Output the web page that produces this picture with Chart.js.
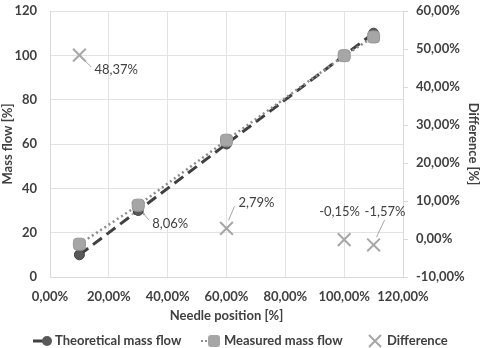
<!DOCTYPE html>
<html>
<head>
<meta charset="utf-8">
<script src="https://cdn.jsdelivr.net/npm/chart.js@4/dist/chart.umd.min.js"></script>
<style>
  html, body { margin: 0; padding: 0; background: #fff; }
  #wrap { width: 481px; height: 348px; }
</style>
</head>
<body>
<div id="wrap"><canvas id="chart" width="481" height="348"></canvas></div>
<script>
const needlePos = [10, 30, 60, 100, 110];
const theoreticalFlow = [10, 30, 60, 100, 110];
const measuredFlow = [14.8, 32.4, 61.7, 99.85, 108.3];
const difference = [48.37, 8.06, 2.79, -0.15, -1.57];
const seriesNames = ["Theoretical mass flow", "Measured mass flow", "Difference"];

const FONT = "Lato, 'Open Sans', sans-serif";
const TEXT = "#404040";
const GRID = "#e3e3e3";

const pct = (v) => v.toFixed(2).replace(".", ",") + "%";
const toPoints = (ys) => needlePos.map((x, i) => ({ x: x, y: ys[i] }));

// where each difference label sits relative to its point, and its leader line
const labelPlace = [
  { dx: 15, dy: 15, lead: [5, 5, 12, 12] },
  { dx: 14, dy: 15, lead: [5, 5, 11, 12] },
  { dx: 12, dy: -26, lead: [2, -8, 8, -22] },
  { dx: -25, dy: -28, lead: null },
  { dx: -9, dy: -33, lead: [3, -8, 11, -25] }
];

const diffLabels = {
  id: "diffLabels",
  afterDatasetsDraw(chart) {
    const ctx = chart.ctx;
    const meta = chart.getDatasetMeta(2);
    ctx.save();
    ctx.font = "13px " + FONT;
    ctx.fillStyle = TEXT;
    ctx.textAlign = "left";
    ctx.textBaseline = "middle";
    meta.data.forEach((pt, i) => {
      const p = labelPlace[i];
      if (p.lead) {
        ctx.strokeStyle = "#a6a6a6";
        ctx.lineWidth = 1;
        ctx.beginPath();
        ctx.moveTo(pt.x + p.lead[0], pt.y + p.lead[1]);
        ctx.lineTo(pt.x + p.lead[2], pt.y + p.lead[3]);
        ctx.stroke();
      }
      ctx.fillText(pct(difference[i]), pt.x + p.dx, pt.y + p.dy);
    });
    ctx.restore();
  }
};

const bottomLegend = {
  id: "bottomLegend",
  afterDraw(chart) {
    const ctx = chart.ctx;
    const y = 341;
    const starts = [33, 200, 369];
    ctx.save();
    ctx.font = "bold 13px " + FONT;
    ctx.fillStyle = TEXT;
    ctx.textBaseline = "middle";
    // theoretical
    let x = starts[0];
    ctx.strokeStyle = "#404040";
    ctx.lineWidth = 3;
    ctx.beginPath(); ctx.moveTo(x, y); ctx.lineTo(x + 12, y); ctx.stroke();
    ctx.fillStyle = "#595959";
    ctx.beginPath(); ctx.arc(x + 14, y, 5, 0, Math.PI * 2); ctx.fill();
    ctx.fillStyle = TEXT;
    ctx.fillText(seriesNames[0], x + 22, y);
    // measured
    x = starts[1];
    ctx.fillStyle = "#8c8c8c";
    ctx.fillRect(x + 1, y - 1, 2, 2);
    ctx.fillRect(x + 5, y - 1, 2, 2);
    ctx.fillStyle = "#a6a6a6";
    ctx.beginPath(); ctx.roundRect(x + 8, y - 6, 12, 12, 3); ctx.fill();
    ctx.fillStyle = TEXT;
    ctx.fillText(seriesNames[1], x + 24, y);
    // difference
    x = starts[2];
    ctx.strokeStyle = "#a6a6a6";
    ctx.lineWidth = 2;
    ctx.beginPath();
    ctx.moveTo(x, y - 6); ctx.lineTo(x + 12, y + 6);
    ctx.moveTo(x + 12, y - 6); ctx.lineTo(x, y + 6);
    ctx.stroke();
    ctx.fillStyle = TEXT;
    ctx.fillText(seriesNames[2], x + 18, y);
    ctx.restore();
  }
};

new Chart(document.getElementById("chart"), {
  type: "line",
  data: {
    datasets: [{
      label: seriesNames[0],
      data: toPoints(theoreticalFlow),
      yAxisID: "y",
      borderColor: "#404040",
      borderWidth: 3,
      borderDash: [11, 6],
      pointStyle: "circle",
      pointRadius: 5,
      pointBackgroundColor: "#595959",
      pointBorderColor: "#404040",
      pointBorderWidth: 1,
      order: 1
    }, {
      label: seriesNames[1],
      data: toPoints(measuredFlow),
      yAxisID: "y",
      borderColor: "#8c8c8c",
      borderWidth: 2.5,
      borderDash: [2, 3],
      pointStyle: "rectRounded",
      pointRadius: 7,
      pointBackgroundColor: "#a6a6a6",
      pointBorderColor: "#969696",
      pointBorderWidth: 1,
      order: 0
    }, {
      label: seriesNames[2],
      data: toPoints(difference),
      yAxisID: "y1",
      showLine: false,
      pointStyle: "crossRot",
      pointRadius: 9,
      pointBorderColor: "#a6a6a6",
      pointBorderWidth: 2,
      order: 2
    }]
  },
  options: {
    responsive: false,
    animation: false,
    layout: { padding: { top: 0, bottom: 24, left: 0, right: 0 } },
    plugins: {
      legend: { display: false },
      tooltip: { enabled: false }
    },
    scales: {
      x: {
        type: "linear",
        min: 0, max: 120,
        ticks: { stepSize: 20, callback: (v) => pct(v), color: TEXT, font: { family: FONT, size: 13, weight: "bold" }, padding: 12, maxRotation: 0 },
        grid: { color: GRID, drawTicks: false },
        border: { color: "#d9d9d9" },
        title: { display: true, text: "Needle position [%]", color: TEXT, font: { family: FONT, size: 13, weight: "bold" }, padding: 0 },
        afterFit: (s) => { s.height = 47; }
      },
      y: {
        position: "left",
        min: 0, max: 120,
        ticks: { stepSize: 20, color: TEXT, font: { family: FONT, size: 13, weight: "bold" }, padding: 13 },
        grid: { color: GRID, drawTicks: false },
        border: { color: "#d9d9d9" },
        title: { display: true, text: "Mass flow [%]", color: TEXT, font: { family: FONT, size: 13, weight: "bold" }, padding: 0 },
        afterFit: (s) => { s.width = 50; s.paddingTop = 5; s.paddingBottom = 0; }
      },
      y1: {
        position: "right",
        min: -10, max: 60,
        ticks: { stepSize: 10, callback: (v) => pct(v), color: TEXT, font: { family: FONT, size: 13, weight: "bold" }, padding: 8 },
        grid: { drawOnChartArea: false, color: "#d9d9d9", tickLength: 5 },
        border: { color: "#d9d9d9" },
        title: { display: true, text: "Difference [%]", color: TEXT, font: { family: FONT, size: 13, weight: "bold" }, padding: 0 },
        afterFit: (s) => { s.width = 78; s.paddingTop = 5; s.paddingBottom = 0; }
      }
    }
  },
  plugins: [diffLabels, bottomLegend]
});
</script>
</body>
</html>
